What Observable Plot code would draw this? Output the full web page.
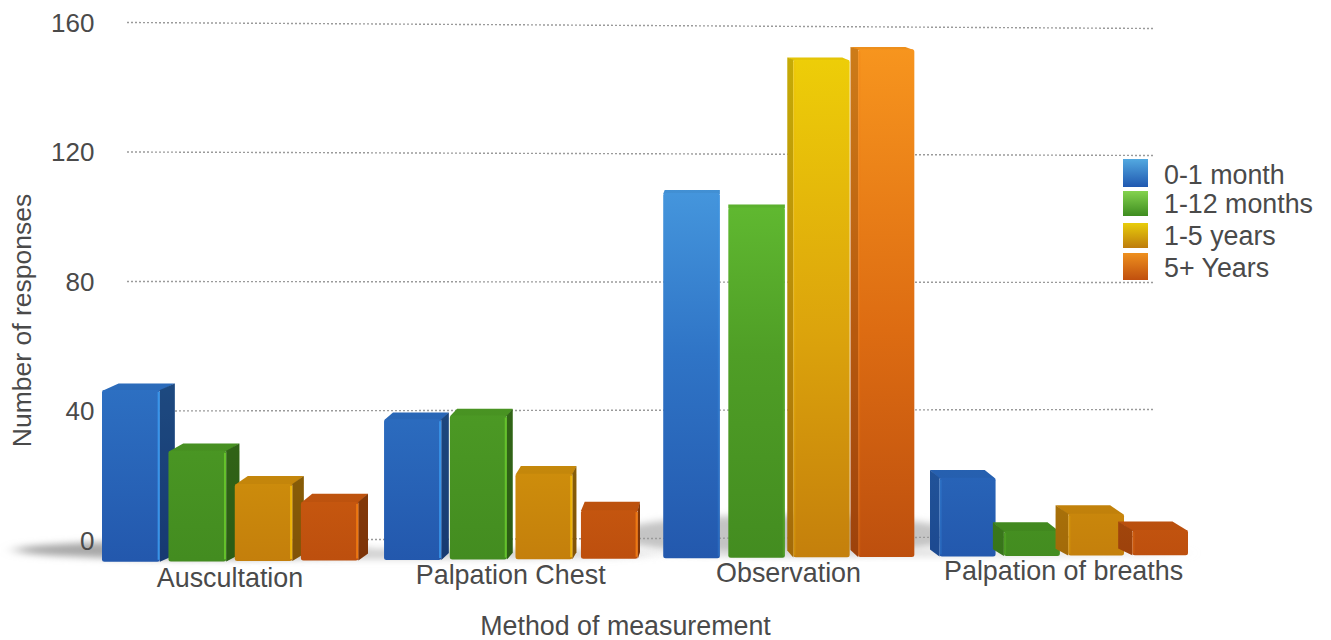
<!DOCTYPE html>
<html><head><meta charset="utf-8">
<script src="https://cdn.jsdelivr.net/npm/d3@7"></script>
<script src="https://cdn.jsdelivr.net/npm/@observablehq/plot@0.6"></script>
<style>
html,body{margin:0;background:#fff}
#wrap{position:relative;width:1331px;height:640px;overflow:hidden;font-family:"Liberation Sans",sans-serif;color:#4a4a4a}
#wrap svg{display:block;background:none}
.sw{position:absolute;left:1123px;width:25px}
.lb{position:absolute;left:1164px;font-size:26.8px;line-height:30px;white-space:nowrap}
</style></head><body><div id="wrap"></div>
<script>
const groups = ["Auscultation","Palpation Chest","Observation","Palpation of breaths"];
const series = ["0-1 month","1-12 months","1-5 years","5+ Years"];
const v0to1   = [51.3,42,109,23.5];
const v1to12  = [33,43,104.5,7.5];
const v1to5   = [23,25.5,148.5,12.5];
const v5plus  = [17.5,14.5,151.5,7.5];
const valueSets = [v0to1,v1to12,v1to5,v5plus];
const yTicks = [0,40,80,120,160];

const period = 4.26, barW = 0.87;
const rows = groups.flatMap((g,gi)=>series.map((s,si)=>({group:g,series:s,value:valueSets[si][gi],x1:gi*period+si,x2:gi*period+si+barW})));
const centers = groups.map((g,gi)=>({group:g,x:gi*period+(3+barW)/2}));

const stops = [
 [["#4a9ee2",0.2],["#2f74c6",0.6],["#2358ad",1]],
 [["#66c234",0.2],["#4f9e26",0.6],["#438c20",1]],
 [["#eecf08",0],["#dca40c",0.55],["#c47f0c",1]],
 [["#f7951e",0],["#dd6c12",0.55],["#bd4f0e",1]]
];
const edge = ["#3b98ec","#68c62c","#f2ba0a","#f27c12"];
const urls = stops.map((_,i)=>`url(#g${i})`);

// slight perspective of the picture
const L=102,R=1188;
const warpX = x => {const t=(x-L)/(R-L);return x+22*t*(1-t);};
const frontY = (px,wall,y0) => 562-7*(px-L)/(R-L)-(y0-wall)*1.035;
const wallY = (px,y) => y+(px-127)/1028*(6-10*(y-22)/518);
const depthX = x => x<720 ? 15*(720-x)/560 : x>790 ? -(6+(x-793)*0.024) : 0;
const depthY = y => Math.max(2.2,0.017*(y-20));

function floorShadow(index,{x,y}){
  const g=d3.create("svg:g");
  const defs=g.append("defs");
  stops.forEach((st,i)=>{
    const lg=defs.append("linearGradient").attr("id",`g${i}`).attr("gradientUnits","userSpaceOnUse")
      .attr("x1",0).attr("x2",0).attr("y1",y(152)).attr("y2",y(0)+20);
    st.forEach(([c,o])=>lg.append("stop").attr("offset",o).attr("stop-color",c));
  });
  const bl=defs.append("filter").attr("id","blur").attr("x","-20%").attr("width","140%").attr("y","-100%").attr("height","300%");
  bl.append("feGaussianBlur").attr("stdDeviation","8 3.5");
  const y0=y(0);
  const blobs=[
    [x(1.35),y0+10,175,9,"#a8a8a8"],
    [x(4.5),y0+14,260,5,"#cfcfcf"],
    [x(10.5),y0-5,175,20,"#c4c4c4"],
    [x(12.5),y0+13,270,3,"#dcdcdc"]
  ];
  blobs.forEach(([cx,cy,rx,ry,c])=>g.append("ellipse").attr("cx",cx).attr("cy",cy).attr("rx",rx).attr("ry",ry)
    .attr("fill",c).attr("filter","url(#blur)"));
  return g.node();
}

const plot = Plot.plot({
  width:1331,height:640,marginTop:22,marginBottom:100,marginLeft:102,marginRight:143,
  style:{fontFamily:'"Liberation Sans",sans-serif',color:"#4a4a4a",background:"transparent",overflow:"visible"},
  x:{domain:[0,3*period+3+barW],axis:null},
  y:{domain:[0,160],axis:null},
  color:{domain:series,range:urls},
  marks:[
    floorShadow,
    Plot.ruleY(yTicks,{insetLeft:25,insetRight:33,stroke:"#9a9a9a",strokeWidth:1.4,strokeDasharray:"2 2",
      render(index,scales,values,dims,ctx,next){
        const g=next(index,scales,values,dims,ctx);
        g.querySelectorAll("line").forEach(l=>{
          const x1=+l.getAttribute("x1"),x2=+l.getAttribute("x2"),y=+l.getAttribute("y1");
          l.setAttribute("y1",wallY(x1,y));l.setAttribute("y2",wallY(x2,y));
        });
        return g;
      }}),
    Plot.axisY({ticks:yTicks,tickSize:0,tickPadding:8,fontSize:26,label:null,anchor:"left",dy:1}),
    Plot.rect(rows,{x1:"x1",x2:"x2",y1:()=>0,y2:"value",fill:"series",
      render(index,scales,values,dims,ctx,next){
        const g=next(index,scales,values,dims,ctx);
        const y0=scales.y(0);
        const NS="http://www.w3.org/2000/svg";
        const poly=(before,pts,fill,op)=>{const p=document.createElementNS(NS,"polygon");
          p.setAttribute("points",pts.map(q=>q.map(n=>n.toFixed(1)).join(",")).join(" "));
          p.setAttribute("fill",fill);if(op!=null)p.setAttribute("fill-opacity",op);before.parentNode.insertBefore(p,before);};
        const rects=[...g.querySelectorAll("rect")];
        rects.forEach((r,k)=>{
          const i=index[k], si=series.indexOf(rows[i].series);
          const a=warpX(values.x1[i]), b=warpX(values.x2[i]);
          const mid=(a+b)/2;
          const top=frontY(mid,values.y2[i],y0), bot=frontY(mid,y0,y0);
          const fill=urls[si];
          r.setAttribute("x",a);r.setAttribute("width",b-a);r.setAttribute("y",top);r.setAttribute("height",bot-top);r.setAttribute("rx",2.5);
          const da=depthX(a),db=depthX(b),dt=depthY(top),dbm=depthY(bot)*0.75;
          // top face
          const tp=[[a,top+1],[b,top+1],[b+db,top-dt],[a+da,top-dt]];
          poly(r,tp,fill);poly(r,tp,"#000",0.04);
          // side face
          const side = db>1 ? [[b,top],[b+db,top-dt],[b+db,bot-dbm],[b,bot]]
                     : da<-1 ? [[a,top],[a+da,top-dt],[a+da,bot-dbm],[a,bot]] : null;
          if(side){poly(r,side,fill);poly(r,side,"#000",db>1?0.34:0.17);}
          // bright bevel
          const e=document.createElementNS(NS,"line");
          const ex = db>1||da>=-1 ? b-1.2 : a+1.2;
          e.setAttribute("x1",ex);e.setAttribute("x2",ex);e.setAttribute("y1",top+2);e.setAttribute("y2",bot-2);
          e.setAttribute("stroke",edge[si]);e.setAttribute("stroke-width",2);e.setAttribute("stroke-opacity",db>1?0.9:0.25);
          r.parentNode.insertBefore(e,r.nextSibling);
        });
        return g;
      }}),
    Plot.text(centers,{x:"x",text:"group",frameAnchor:"bottom",dy:46,fontSize:26.9,fill:"#4a4a4a",
      render(index,scales,values,dims,ctx,next){
        const g=next(index,scales,values,dims,ctx);
        g.querySelectorAll("text").forEach((t,k)=>{
          const px=scales.x(centers[index[k]].x);
          const d=-7*(px-230)/830;
          const s=warpX(px)-px-1;
          t.setAttribute("transform",`${t.getAttribute("transform")||""} translate(${s.toFixed(1)},${d.toFixed(1)})`);
        });
        return g;
      }}),
    Plot.text(["Number of responses"],{frameAnchor:"left",textAnchor:"middle",rotate:-90,dx:-80,dy:39,fontSize:26.5,fill:"#4a4a4a"}),
    Plot.text(["Method of measurement"],{frameAnchor:"bottom",dx:-20,dy:94,fontSize:26.8,fill:"#4a4a4a"})
  ]
});
const wrap=document.getElementById("wrap");
wrap.appendChild(plot);

const swatchTops=[159,191,223,253],swatchHeights=[28,25,25,27],labelCenters=[175,204,236,268];
const swatchFill=["#53a9e0,#2058b0","#84d34e,#3e8c20","#e8cd0a,#be7c0c","#ee901e,#c04f0e"];
series.forEach((s,i)=>{
  const sw=document.createElement("div");sw.className="sw";
  sw.style.top=swatchTops[i]+"px";sw.style.height=swatchHeights[i]+"px";
  sw.style.background=`linear-gradient(${swatchFill[i]})`;wrap.appendChild(sw);
  const lb=document.createElement("div");lb.className="lb";lb.textContent=s;
  lb.style.top=(labelCenters[i]-15)+"px";wrap.appendChild(lb);
});
</script></body></html>
